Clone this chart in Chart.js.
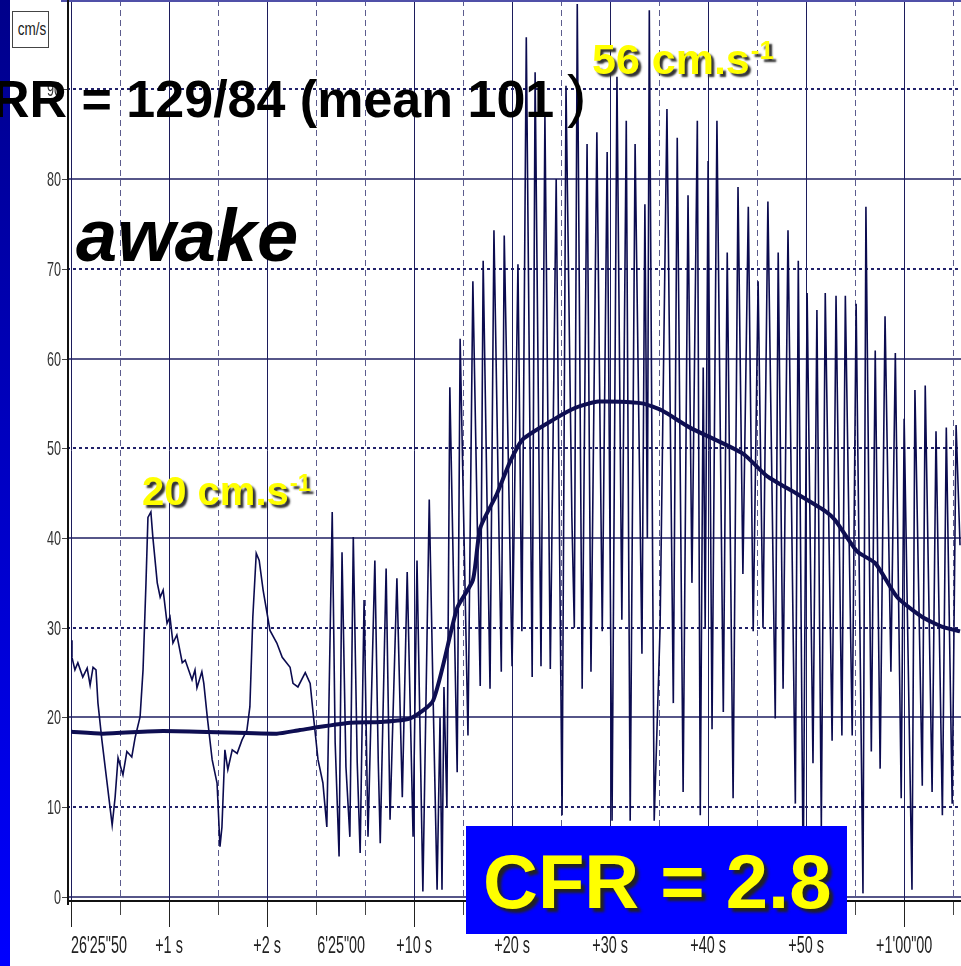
<!DOCTYPE html>
<html>
<head>
<meta charset="utf-8">
<script src="https://cdn.jsdelivr.net/npm/chart.js@4.4.1/dist/chart.umd.min.js"></script>
<style>
  html, body { margin: 0; padding: 0; background: #fff; }
  #wrap { position: relative; width: 961px; height: 966px; overflow: hidden; font-family: "Liberation Sans", Arial, sans-serif; }
  #chart { position: absolute; left: 0; top: 0; }
  .sidebar { position: absolute; left: 0; top: 0; width: 10px; height: 966px; background: linear-gradient(#00008a, #0000ff); }
  .unit { position: absolute; left: 12px; top: 11px; width: 35px; height: 35px; border: 1px solid #444; background: #fff;
          font-size: 18px; line-height: 35px; text-align: center; color: #222; }
  .unit span { display: inline-block; transform: scaleX(0.75); }
  .note { position: absolute; white-space: nowrap; line-height: 1; }
  .rr { left: -8px; top: 73px; font-size: 52px; font-weight: bold; color: #000; }
  .paren { left: 567px; top: 67px; font-size: 58px; color: #000; }
  .awake { left: 76px; top: 199px; font-size: 74px; font-weight: bold; font-style: italic; color: #000; }
  .peak { font-weight: bold; color: #ffff00; text-shadow: 3px 3px 2px #333; }
  .peak sup { font-size: 0.6em; vertical-align: baseline; position: relative; top: -0.6em; margin-left: 1px; }
  .p20 { left: 142px; top: 471px; font-size: 40px; }
  .p56 { left: 592px; top: 38px; font-size: 43px; }
  .cfr { position: absolute; left: 466px; top: 826px; width: 381px; height: 108px; background: #0000ff; }
  .cfr span { position: absolute; left: 17px; top: 18px; font-size: 76px; line-height: 1; white-space: nowrap;
              font-weight: bold; color: #ffff00; text-shadow: 4px 4px 3px #222; }
</style>
</head>
<body>
<div id="wrap">
  <canvas id="chart" width="961" height="966"></canvas>
  <div class="sidebar"></div>
  <div class="unit"><span>cm/s</span></div>
  <div class="note rr">RR = 129/84 (mean 101</div>
  <div class="note paren">)</div>
  <div class="note awake">awake</div>
  <div class="note peak p20">20 cm.s<sup>-1</sup></div>
  <div class="note peak p56">56 cm.s<sup>-1</sup></div>
  <div class="cfr"><span>CFR = 2.8</span></div>
</div>
<script>
// time in grid divisions, velocity in cm/s
const traceTime = [
  0.00, 0.02, 0.08, 0.14, 0.24, 0.33, 0.39, 0.45, 0.51, 0.55, 0.63, 0.73, 0.84, 0.90, 0.96, 1.06,
  1.14, 1.24, 1.31, 1.41, 1.47, 1.53, 1.57, 1.63, 1.67, 1.76, 1.82, 1.88, 1.96, 2.02, 2.08, 2.16,
  2.27, 2.33, 2.47, 2.53, 2.57, 2.67, 2.71,
  2.78, 2.88, 2.98, 3.04, 3.08, 3.14, 3.20, 3.29, 3.39, 3.49, 3.59, 3.65,
  3.71, 3.78, 3.84, 3.92, 4.06, 4.20, 4.31, 4.47, 4.53, 4.63, 4.78, 4.88, 4.94, 5.04, 5.14, 5.22,
  5.33, 5.39, 5.47, 5.53, 5.61, 5.69, 5.76, 5.84, 5.90, 5.98, 6.06, 6.20, 6.27, 6.31, 6.43, 6.51,
  6.65, 6.76, 6.86, 6.98, 7.06, 7.18, 7.31, 7.39, 7.47, 7.53, 7.57, 7.61, 7.67, 7.73, 7.88, 7.94,
  8.10, 8.20, 8.35, 8.41, 8.55, 8.63, 8.78, 8.84, 9.00, 9.12, 9.20, 9.29, 9.41, 9.47, 9.59, 9.67,
  9.78, 9.90, 10.02, 10.10, 10.22, 10.27, 10.33, 10.43, 10.53, 10.61, 10.73, 10.84, 10.94, 11.04, 11.14, 11.24,
  11.33, 11.41, 11.51, 11.65, 11.71, 11.76, 11.80, 11.90, 12.02, 12.16, 12.29, 12.37, 12.49, 12.59, 12.67, 12.78,
  12.84, 12.90, 12.94, 13.00, 13.08, 13.18, 13.31, 13.39, 13.51, 13.61, 13.71, 13.82, 13.92, 14.02, 14.12, 14.22,
  14.37, 14.43, 14.53, 14.63, 14.78, 14.84, 14.94, 15.02, 15.14, 15.22, 15.31, 15.39, 15.53, 15.61, 15.73, 15.80,
  15.94, 16.02, 16.16, 16.22, 16.33, 16.41, 16.51, 16.61, 16.73, 16.82, 16.94, 17.00, 17.16, 17.22, 17.37, 17.43,
  17.57, 17.65, 17.78, 17.86, 17.98, 18.06, 18.14
];
const traceVel = [
  28.6, 26.7, 25.3, 26.1, 24.5, 25.5, 23.6, 25.6, 25.3, 21.6, 17.5, 13.0, 8.0, 11.1, 15.5, 13.6,
  16.2, 15.6, 17.8, 20.1, 25.3, 35.0, 42.3, 42.9, 40.1, 35.0, 33.4, 34.2, 30.5, 31.2, 28.3, 29.2,
  26.1, 26.4, 24.2, 25.3, 23.3, 25.1, 23.8,
  20.1, 15.3, 12.7, 5.6, 7.8, 16.4, 14.2, 16.4, 16.0, 17.5, 18.6, 21.2,
  31.2, 38.3, 37.5, 34.2, 29.7, 28.3, 26.7, 25.6, 23.8, 23.4, 25.0, 23.8, 20.5, 15.3, 12.7, 7.8,
  42.9, 17.2, 4.5, 38.4, 14.5, 6.7, 40.1, 15.0, 4.9, 33.1, 6.7, 37.5, 15.0, 6.0, 36.6, 8.6,
  35.5, 11.1, 36.2, 6.7, 37.5, 0.6, 44.3, 21.9, 0.8, 20.0, 0.8, 23.4, 10.0, 56.8, 13.9, 62.2,
  18.0, 68.6, 23.5, 70.9, 23.2, 74.3, 25.1, 73.7, 25.7, 70.5, 29.6, 95.8, 24.5, 91.9, 25.7, 87.1,
  25.4, 80.0, 9.1, 90.4, 42.3, 30.0, 99.5, 23.2, 83.9, 25.1, 85.2, 29.6, 83.0, 8.5, 91.4, 30.9,
  86.5, 8.5, 83.9, 27.1, 77.2, 40.0, 98.8, 8.5, 30.0, 87.8, 21.6, 84.6, 11.7, 78.2, 35.0, 86.5,
  9.1, 59.0, 30.0, 82.0, 18.7, 86.5, 20.6, 71.8, 11.0, 79.1, 36.0, 76.9, 29.6, 68.6, 30.0, 77.5,
  19.9, 71.8, 23.2, 74.3, 10.4, 70.9, 2.1, 67.3, 14.9, 65.4, 7.8, 67.3, 17.4, 67.0, 18.0, 67.0,
  18.0, 66.1, 0.4, 76.9, 16.2, 60.9, 14.3, 64.7, 25.1, 60.6, 11.0, 53.3, 0.8, 56.5, 12.4, 57.0,
  11.7, 51.9, 9.1, 52.3, 10.4, 52.6, 39.2
];
const meanTime = [
  0.00, 0.65, 1.88, 4.20, 4.67, 5.69, 6.31, 6.92, 7.39, 7.88, 8.20, 8.35, 8.69, 8.96, 9.22, 9.88,
  10.29, 10.76, 11.65, 12.06, 12.63, 13.71, 14.20, 14.82, 15.39, 15.59, 16.04, 16.41, 16.86, 17.37, 17.78, 18.14
];
const meanVel = [
  18.4, 18.2, 18.5, 18.2, 18.6, 19.4, 19.5, 19.9, 21.9, 32.2, 35.3, 41.1, 44.9, 48.5, 51.0, 53.3,
  54.5, 55.2, 55.0, 54.2, 52.3, 49.4, 46.9, 44.9, 43.0, 42.0, 38.5, 37.2, 33.4, 31.2, 30.1, 29.6
];
const yTicks = [0, 10, 20, 30, 40, 50, 60, 70, 80, 90];
const xMajor = [0, 2, 4, 7, 9, 11, 13, 15, 17];
const xMinor = [1, 3, 5, 6, 8, 10, 12, 14, 16, 18];
const xLabelPos = [0, 2, 4, 6, 7, 9, 11, 13, 15, 17];
const xLabels = ["26'25\"50", "+1 s", "+2 s", "6'25\"00", "+10 s", "+20 s", "+30 s", "+40 s", "+50 s", "+1'00\"00"];

function narrowText(ctx, text, px, py, size, sx, align) {
  ctx.save();
  ctx.translate(px, py);
  ctx.scale(sx, 1);
  ctx.font = size + 'px "Liberation Sans", Arial, sans-serif';
  ctx.textAlign = align;
  ctx.textBaseline = "alphabetic";
  ctx.fillText(text, 0, 0);
  ctx.restore();
}

const gridPlugin = {
  id: "dopplerGrid",
  beforeDatasetsDraw(chart) {
    const { ctx, chartArea: a, scales: { x, y } } = chart;
    ctx.save();

    // vertical lines
    xMinor.forEach(v => {
      const px = Math.round(x.getPixelForValue(v)) + 0.5;
      ctx.beginPath();
      ctx.setLineDash([6, 4]);
      ctx.strokeStyle = "#5c5c8e";
      ctx.lineWidth = 1;
      ctx.moveTo(px, a.top);
      ctx.lineTo(px, a.bottom);
      ctx.stroke();
      ctx.setLineDash([]);
      ctx.strokeStyle = "#444";
      ctx.beginPath();
      ctx.moveTo(px, a.bottom);
      ctx.lineTo(px, a.bottom + 14);
      ctx.stroke();
    });
    xMajor.forEach(v => {
      const px = Math.round(x.getPixelForValue(v)) + 0.5;
      ctx.beginPath();
      ctx.setLineDash([]);
      ctx.strokeStyle = "#1c1c5c";
      ctx.lineWidth = 1;
      ctx.moveTo(px, a.top);
      ctx.lineTo(px, a.bottom);
      ctx.stroke();
      ctx.strokeStyle = "#222";
      ctx.beginPath();
      ctx.moveTo(px, a.bottom);
      ctx.lineTo(px, a.bottom + 26);
      ctx.stroke();
    });

    // horizontal lines
    yTicks.forEach(v => {
      const py = Math.round(y.getPixelForValue(v));
      ctx.beginPath();
      if (v % 20 === 0) {
        ctx.setLineDash([]);
        ctx.strokeStyle = "#1e1e62";
        ctx.lineWidth = 1.6;
      } else {
        ctx.setLineDash([3, 3]);
        ctx.strokeStyle = "#22226a";
        ctx.lineWidth = 2;
      }
      ctx.moveTo(a.left - 4, py);
      ctx.lineTo(a.right, py);
      ctx.stroke();
      ctx.setLineDash([]);
      ctx.strokeStyle = "#444";
      ctx.lineWidth = 1;
      ctx.beginPath();
      ctx.moveTo(a.left - 9, py + 0.5);
      ctx.lineTo(a.left - 2, py + 0.5);
      ctx.stroke();
      ctx.fillStyle = "#333";
      narrowText(ctx, String(v), a.left - 10, py + 7, 21, 0.6, "right");
    });

    // frame
    ctx.setLineDash([]);
    ctx.strokeStyle = "#5050a8";
    ctx.lineWidth = 2;
    ctx.beginPath();
    ctx.moveTo(a.left - 10, 1);
    ctx.lineTo(a.right, 1);
    ctx.stroke();
    ctx.strokeStyle = "#111";
    ctx.lineWidth = 2;
    ctx.beginPath();
    ctx.moveTo(a.left - 3, 0);
    ctx.lineTo(a.left - 3, a.bottom + 4);
    ctx.moveTo(a.left - 3, a.bottom);
    ctx.lineTo(a.right, a.bottom);
    ctx.stroke();

    // x labels
    ctx.fillStyle = "#222";
    xLabelPos.forEach((v, i) => {
      const px = x.getPixelForValue(v);
      const align = i === 0 ? "left" : (v === 6 ? "right" : "center");
      narrowText(ctx, xLabels[i], px, a.bottom + 52, 24, 0.6, align);
    });
    ctx.restore();
  }
};

const ctx = document.getElementById("chart").getContext("2d");
new Chart(ctx, {
  type: "line",
  data: {
    datasets: [
      {
        label: "mean velocity",
        data: meanTime.map((t, i) => ({ x: t, y: meanVel[i] })),
        borderColor: "#0e0e52",
        borderWidth: 4,
        pointRadius: 0,
        tension: 0.2,
        order: 0,
      },
      {
        label: "velocity",
        data: traceTime.map((t, i) => ({ x: t, y: traceVel[i] })),
        borderColor: "#0b0b4f",
        borderWidth: 1.6,
        pointRadius: 0,
        tension: 0,
        order: 1,
      },
    ],
  },
  options: {
    responsive: false,
    animation: false,
    devicePixelRatio: 1,
    layout: { padding: { left: 71, top: 0, right: 0, bottom: 65 } },
    plugins: { legend: { display: false }, tooltip: { enabled: false } },
    scales: {
      x: { type: "linear", min: 0, max: 18.16, display: false },
      y: { type: "linear", min: -0.45, max: 99.95, display: false },
    },
  },
  plugins: [gridPlugin],
});
</script>
</body>
</html>
